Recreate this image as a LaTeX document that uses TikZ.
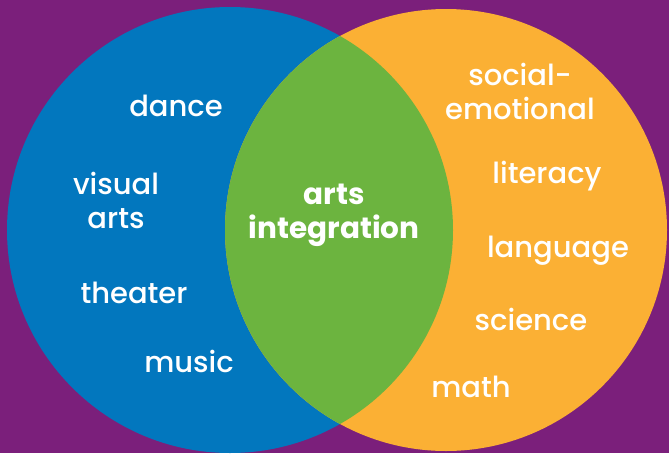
\documentclass[tikz,border=0pt]{standalone}
\usepackage{fontspec}
\setmainfont{Poppins}[UprightFont=* Medium, BoldFont=* Bold]

\definecolor{bgpurple}{RGB}{123,31,123}
\definecolor{artsblue}{RGB}{2,119,190}
\definecolor{corenorange}{RGB}{251,176,52}
\definecolor{mixgreen}{RGB}{108,180,63}

\tikzset{
  topic/.style={text=white, inner sep=0pt, anchor=base, align=center,
    font=\fontsize{29}{34}\selectfont},
  core/.style={topic, font=\fontsize{29.5}{34}\selectfont\bfseries}
}

\begin{document}
\begin{tikzpicture}[x=1pt,y=-1pt]

  % Background and circles
  \fill[bgpurple] (0,0) rectangle (669,453);
  \coordinate (cl) at (230,230);
  \coordinate (cr) at (446,230);
  \fill[artsblue] (cl) circle (223pt);
  \fill[corenorange] (cr) circle (221pt);
  \begin{scope}
    \clip (cl) circle (223pt);
    \fill[mixgreen] (cr) circle (221pt);
  \end{scope}

  % Arts
  \node[topic] (dance)   at (176,116) {dance};
  \node[topic] (visual)  at (116,228) {visual\\arts};
  \node[topic] (theater) at (134,303) {theater};
  \node[topic] (music)   at (189,372) {music};

  % Overlap
  \node[core]  (ai)      at (334,238) {arts\\integration};

  % Core subjects
  \node[topic] (social)  at (520,119) {social-\\emotional};
  \node[topic] (lit)     at (547,183) {literacy};
  \node[topic] (lang)    at (558,257) {language};
  \node[topic] (sci)     at (531,330) {science};
  \node[topic] (math)    at (471,397) {math};

\end{tikzpicture}
\end{document}
